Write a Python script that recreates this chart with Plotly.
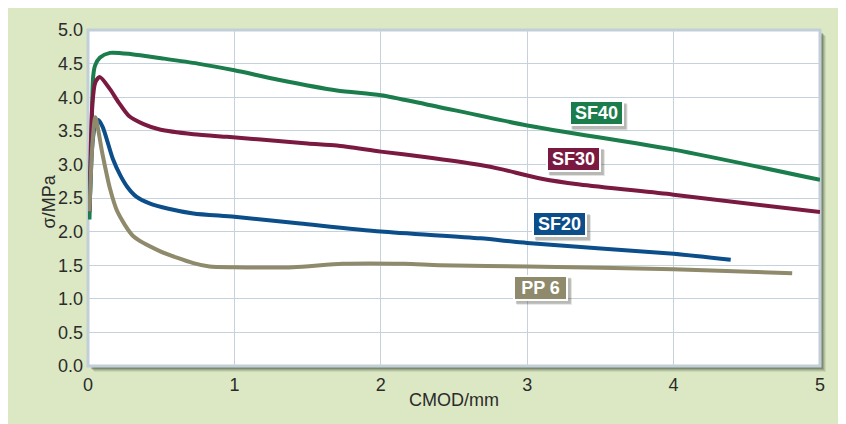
import plotly.graph_objects as go

# ---------------- data ----------------
sf40_x = [0.01, 0.025, 0.035, 0.048, 0.082, 0.15, 0.3, 0.5, 0.75, 1.0, 1.3, 1.7, 2.0, 2.3, 3.0, 4.0, 5.0]
sf40_y = [2.18, 3.5, 4.3, 4.47, 4.59, 4.66, 4.64, 4.58, 4.5, 4.4, 4.26, 4.1, 4.03, 3.9, 3.58, 3.22, 2.77]

sf30_x = [0.01, 0.03, 0.05, 0.08, 0.15, 0.21, 0.28, 0.38, 0.49, 0.72, 0.95, 1.18, 1.5, 1.7, 2.0, 2.3, 2.68, 2.82, 3.09, 3.36, 4.0, 5.0]
sf30_y = [2.3, 3.9, 4.22, 4.3, 4.12, 3.92, 3.72, 3.6, 3.52, 3.45, 3.41, 3.37, 3.31, 3.28, 3.19, 3.11, 2.99, 2.93, 2.79, 2.7, 2.55, 2.29]

sf20_x = [0.01, 0.03, 0.05, 0.07, 0.1, 0.17, 0.22, 0.27, 0.33, 0.42, 0.55, 0.72, 1.0, 1.45, 2.0, 2.68, 3.0, 4.0, 4.39]
sf20_y = [2.3, 3.3, 3.6, 3.66, 3.56, 3.08, 2.84, 2.66, 2.52, 2.42, 2.34, 2.27, 2.22, 2.12, 2.0, 1.9, 1.83, 1.67, 1.58]

pp6_x = [0.01, 0.03, 0.05, 0.1, 0.15, 0.2, 0.31, 0.49, 0.72, 0.83, 1.0, 1.4, 1.74, 2.16, 2.4, 3.0, 4.0, 4.81]
pp6_y = [2.3, 3.3, 3.7, 3.14, 2.64, 2.3, 1.93, 1.71, 1.53, 1.48, 1.47, 1.47, 1.52, 1.52, 1.5, 1.48, 1.44, 1.38]

series_names = ["SF40", "SF30", "SF20", "PP 6"]
series_colors = ["#1b7d4c", "#7b1a40", "#0b4e8a", "#8e8a6b"]
label_x = [3.47, 3.315, 3.22, 3.09]
label_y = [3.76, 3.08, 2.11, 1.165]

x_ticks = [0, 1, 2, 3, 4, 5]
y_ticks = [0.0, 0.5, 1.0, 1.5, 2.0, 2.5, 3.0, 3.5, 4.0, 4.5, 5.0]

# ---------------- layout geometry (pixels, figure coords) ----------------
W, H = 838, 416
L, R, T, B = 80, 812, 19, 358
PW, PH = R - L, B - T
FONT = "Liberation Sans, Arial, sans-serif"


def px(x):
    return (x - L) / PW


def py(y):
    return (B - y) / PH


fig = go.Figure()
xs = [sf40_x, sf30_x, sf20_x, pp6_x]
ys = [sf40_y, sf30_y, sf20_y, pp6_y]
for name, color, x, y in zip(series_names, series_colors, xs, ys):
    fig.add_trace(go.Scatter(x=x, y=y, mode="lines", name=name,
                             line=dict(color=color, width=4, shape="spline", smoothing=0.7),
                             hoverinfo="skip"))

shapes = []
# shadow of plot panel
for off, op in [(6, 0.10), (5, 0.15), (4, 0.22), (3, 0.30)]:
    shapes.append(dict(type="rect", xref="paper", yref="paper", layer="below",
                       x0=px(L + off), x1=px(R + off), y0=py(B + off), y1=py(T + off),
                       fillcolor="rgba(60,72,52,%s)" % op, line=dict(width=0)))
# white plot panel
shapes.append(dict(type="rect", xref="paper", yref="paper", layer="below",
                   x0=0, x1=1, y0=0, y1=1,
                   fillcolor="#ffffff", line=dict(color="#c2cfd9", width=3)))

# label shadows (pixel sized, anchored at the label position)
BW, BH = 55, 26
for lx, ly in zip(label_x, label_y):
    for off, op in [(4, 0.15), (3, 0.25)]:
        shapes.append(dict(type="rect", xref="x", yref="y", layer="above",
                           xsizemode="pixel", ysizemode="pixel", xanchor=lx, yanchor=ly,
                           x0=-BW / 2 + off, x1=BW / 2 + off, y0=-BH / 2 - off, y1=BH / 2 - off,
                           fillcolor="rgba(60,60,50,%s)" % op, line=dict(width=0)))

annotations = []
for name, color, lx, ly in zip(series_names, series_colors, label_x, label_y):
    annotations.append(dict(x=lx, y=ly, xref="x", yref="y", text="<b>%s</b>" % name,
                            showarrow=False, width=BW - 8, height=BH - 8,
                            font=dict(family=FONT, size=18, color="#ffffff"),
                            bgcolor=color, bordercolor="#ffffff",
                            borderwidth=2, borderpad=2))

# axis titles
annotations.append(dict(x=px(446), y=py(404), xref="paper", yref="paper", text="CMOD/mm",
                        showarrow=False, font=dict(family=FONT, size=18, color="#2b2b2b")))
annotations.append(dict(x=px(29), y=py(192), xref="paper", yref="paper", text="σ/MPa", textangle=-90,
                        showarrow=False, font=dict(family=FONT, size=18, color="#2b2b2b")))

fig.update_layout(
    width=W, height=H,
    margin=dict(l=L, r=W - R, t=T, b=H - B, pad=0),
    paper_bgcolor="#dbe8c3", plot_bgcolor="rgba(0,0,0,0)",
    showlegend=False,
    shapes=shapes, annotations=annotations,
    font=dict(family=FONT, size=18, color="#2b2b2b"),
    xaxis=dict(range=[0, 5], tickvals=x_ticks, ticktext=[str(v) for v in x_ticks],
               showgrid=True, gridcolor="#c5d2dc", gridwidth=1, zeroline=False,
               showline=False, ticks="", ticklabelstandoff=6, fixedrange=True),
    yaxis=dict(range=[0, 5], tickvals=y_ticks, ticktext=["%.1f" % v for v in y_ticks],
               showgrid=True, gridcolor="#c5d2dc", gridwidth=1, zeroline=False,
               showline=False, ticks="", ticklabelstandoff=4, fixedrange=True),
)

fig.write_html("out.html")
